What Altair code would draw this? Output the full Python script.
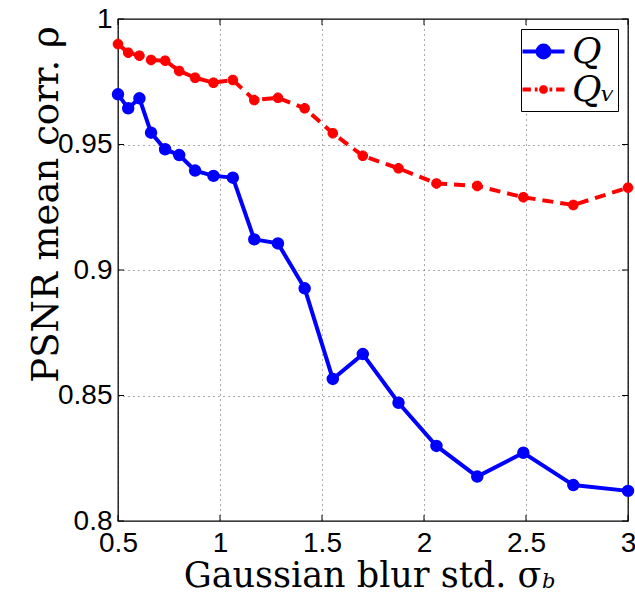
import altair as alt
import pandas as pd

# ---- data ----
sigma = [0.5, 0.55, 0.605, 0.662, 0.731, 0.80, 0.878, 0.968, 1.063, 1.168,
         1.284, 1.415, 1.553, 1.70, 1.875, 2.061, 2.261, 2.487, 2.732, 3.0]
q_vals = [0.970, 0.9644, 0.9684, 0.9547, 0.9481, 0.9458, 0.9396, 0.9375, 0.9368, 0.9122,
          0.9106, 0.8927, 0.8566, 0.8665, 0.8471, 0.8299, 0.8177, 0.8272, 0.8143, 0.8120]
qv_vals = [0.990, 0.9866, 0.9854, 0.9837, 0.9834, 0.9793, 0.9766, 0.9746, 0.9757, 0.9677,
           0.9686, 0.9644, 0.9545, 0.9455, 0.9405, 0.9345, 0.9335, 0.9290, 0.9259, 0.9328]
series_names = ["Q", "Qᵥ"]
series_colors = ["#0000ff", "#ff0000"]
x_ticks = [0.5, 1, 1.5, 2, 2.5, 3]
y_ticks = [0.8, 0.85, 0.9, 0.95, 1]

rows = []
for s, a, b in zip(sigma, q_vals, qv_vals):
    rows.append({"sigma": s, "rho": a, "series": series_names[0]})
    rows.append({"sigma": s, "rho": b, "series": series_names[1]})
df = pd.DataFrame(rows)

xs = alt.Scale(domain=[0.5, 3], nice=False, zero=False)
ys = alt.Scale(domain=[0.8, 1], nice=False, zero=False)
cscale = alt.Scale(domain=series_names, range=series_colors)

x_axis = alt.Axis(values=x_ticks, format="~g", title="Gaussian blur std. σ",
                  titleX=244, titleY=65, titleBaseline="alphabetic")
y_axis = alt.Axis(values=y_ticks, format="~g", title="PSNR mean corr. ρ",
                  titleX=-61, titleY=185, titleBaseline="alphabetic",
                  titleAngle=270)
x_enc = alt.X("sigma:Q", scale=xs, axis=x_axis)
y_enc = alt.Y("rho:Q", scale=ys, axis=y_axis)

base = alt.Chart(df)
is_q = alt.datum.series == series_names[0]
is_qv = alt.datum.series == series_names[1]

q_line = base.transform_filter(is_q).mark_line(
    strokeWidth=4, color=series_colors[0]).encode(x=x_enc, y=y_enc)
q_pts = base.transform_filter(is_q).mark_point(
    shape="circle", filled=True, size=110, color=series_colors[0],
    stroke=series_colors[0], strokeWidth=2, opacity=1).encode(x=x_enc, y=y_enc)

qv_line = base.transform_filter(is_qv).mark_line(
    strokeWidth=4, color=series_colors[1], strokeDash=[11, 7]).encode(x=x_enc, y=y_enc)
asterisk = "M-1,0L1,0M0,-1L0,1M-0.7,-0.7L0.7,0.7M-0.7,0.7L0.7,-0.7"
qv_pts = base.transform_filter(is_qv).mark_point(
    shape=asterisk, filled=False, size=110, color=series_colors[1],
    strokeWidth=3.5, opacity=1).encode(x=x_enc, y=y_enc)

# inward tick marks on all four sides (MATLAB style)
xt = alt.Chart(pd.DataFrame({"t": x_ticks}))
yt = alt.Chart(pd.DataFrame({"t": y_ticks}))
tick_style = dict(color="black", strokeWidth=1)
tx = alt.X("t:Q", scale=xs, axis=x_axis)
ty = alt.Y("t:Q", scale=ys, axis=y_axis)
ticks_bottom = xt.mark_rule(**tick_style).encode(x=tx, y=alt.value(496), y2=alt.value(502))
ticks_top = xt.mark_rule(**tick_style).encode(x=tx, y=alt.value(0), y2=alt.value(6))
ticks_left = yt.mark_rule(**tick_style).encode(y=ty, x=alt.value(0), x2=alt.value(6))
ticks_right = yt.mark_rule(**tick_style).encode(y=ty, x=alt.value(504), x2=alt.value(510))

# legend-only layer (no rows drawn)
path_q = "M-1.2,0L1.2,0M0.34,0A0.34,0.34,0,1,1,-0.34,0A0.34,0.34,0,1,1,0.34,0Z"
path_qv = ("M-1.2,0L-0.72,0M-0.5,0L-0.34,0M0.34,0L0.5,0M0.72,0L1.2,0"
           "M0,-0.24L0,0.24M-0.21,-0.12L0.21,0.12M-0.21,0.12L0.21,-0.12"
           "M-0.24,0L0.24,0")
leg = alt.Legend(title=None, orient="none", legendX=403, legendY=10,
                 symbolSize=1225, symbolStrokeWidth=4, symbolOpacity=1,
                 labelFont="DejaVu Serif", labelFontStyle="italic",
                 labelFontSize=36, labelColor="black", labelOffset=9,
                 labelLimit=200,
                 strokeColor="black", fillColor="white", padding=3,
                 rowPadding=-8)
legend_layer = base.transform_filter("false").mark_point(filled=True).encode(
    x=x_enc, y=y_enc,
    shape=alt.Shape("series:N", scale=alt.Scale(domain=series_names, range=[path_q, path_qv]), legend=leg),
    fill=alt.Fill("series:N", scale=cscale, legend=leg),
    stroke=alt.Stroke("series:N", scale=cscale, legend=leg),
)

sub_b = alt.Chart(pd.DataFrame({"t": ["b"]})).mark_text(
    font="DejaVu Serif", fontStyle="italic", fontSize=21, align="left",
    baseline="alphabetic", color="black").encode(
    text="t:N", x=alt.value(424), y=alt.value(569))

chart = alt.layer(qv_line, qv_pts, q_line, q_pts, legend_layer,
                  ticks_bottom, ticks_top, ticks_left, ticks_right, sub_b).properties(
    width=510, height=502,
    autosize=alt.AutoSizeParams(type="none"),
    padding={"left": 118, "top": 19, "right": 7, "bottom": 73},
).configure_view(stroke="black", strokeWidth=1.3).configure_axis(
    domain=False, ticks=False, labelFlush=False,
    grid=True, gridColor="#444", gridDash=[1, 4], gridWidth=1, gridOpacity=0.9,
    labelFont="Liberation Sans", labelFontSize=28, labelColor="black",
    titleFont="DejaVu Serif", titleFontSize=35, titleFontWeight="normal",
    titleColor="black",
).configure_axisX(labelPadding=8).configure_axisY(labelPadding=6, titleFontSize=37)

chart.save("out.html", embed_options={"renderer": "svg", "actions": False})
